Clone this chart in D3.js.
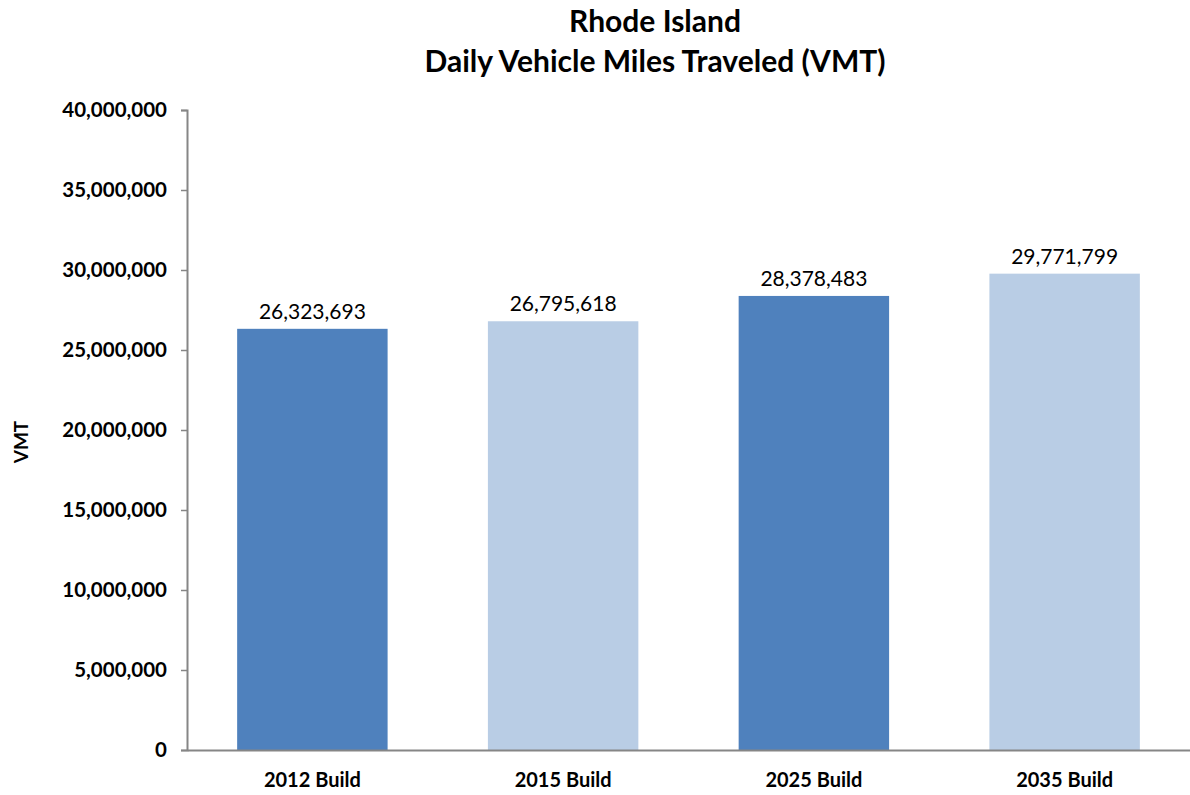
<!DOCTYPE html>
<html>
<head>
<meta charset="utf-8">
<script src="https://cdn.jsdelivr.net/npm/d3@7"></script>
<style>
  body { margin: 0; background: #fff; }
  text { font-family: Lato, "Open Sans", sans-serif; }
</style>
</head>
<body>
<div id="main"></div>
<script>
const categories = ["2012 Build", "2015 Build", "2025 Build", "2035 Build"];
const vmtValues = [26323693, 26795618, 28378483, 29771799];
const barColors = ["#4F81BD", "#B9CDE5", "#4F81BD", "#B9CDE5"];
const yTicks = [0, 5000000, 10000000, 15000000, 20000000, 25000000, 30000000, 35000000, 40000000];
const titleLines = ["Rhode Island", "Daily Vehicle Miles Traveled (VMT)"];

const ctx = {
    w: 1190,
    h: 795,
    left: 187,
    right: 1190,
    top: 110,
    bottom: 750,
};

function createViz(){
    let svg = d3.select("#main").append("svg")
        .attr("width", ctx.w)
        .attr("height", ctx.h);

    const x = d3.scaleBand().domain(categories)
        .range([ctx.left, ctx.right]).paddingInner(0.4).paddingOuter(0.2);
    const y = d3.scaleLinear().domain([0, 40000000]).range([ctx.bottom, ctx.top]);
    const fmt = d3.format(",");

    // titre
    svg.append("g").selectAll("text")
        .data(titleLines)
        .enter().append("text")
        .attr("x", 655)
        .attr("y", (d, i) => 32 + i * 40)
        .attr("text-anchor", "middle")
        .style("font-size", "30px")
        .style("font-weight", "bold")
        .text(d => d);

    // barres
    svg.append("g").selectAll("rect")
        .data(vmtValues)
        .enter().append("rect")
        .attr("x", (d, i) => x(categories[i]))
        .attr("y", d => y(d))
        .attr("width", x.bandwidth())
        .attr("height", d => y(0) - y(d))
        .attr("fill", (d, i) => barColors[i]);

    // etiquettes des valeurs
    svg.append("g").selectAll("text")
        .data(vmtValues)
        .enter().append("text")
        .attr("x", (d, i) => x(categories[i]) + x.bandwidth() / 2)
        .attr("y", d => y(d) - 10)
        .attr("text-anchor", "middle")
        .style("font-size", "21px")
        .style("fill", "#000")
        .text(d => fmt(d));

    // axe y
    let yAxis = svg.append("g")
        .attr("transform", `translate(${ctx.left},0)`)
        .call(d3.axisLeft(y).tickValues(yTicks).tickFormat(fmt).tickSize(6).tickPadding(14));
    yAxis.select(".domain").attr("stroke", "#868686").attr("stroke-width", 2);
    yAxis.selectAll(".tick line").attr("stroke", "#868686").attr("stroke-width", 1.5);
    yAxis.selectAll(".tick text")
        .style("font-family", "Lato, sans-serif")
        .style("font-size", "20.5px")
        .style("font-weight", "bold")
        .attr("fill", "#000");

    // axe x
    let xAxis = svg.append("g")
        .attr("transform", `translate(0,${ctx.bottom})`)
        .call(d3.axisBottom(x).tickSize(0).tickPadding(23));
    xAxis.select(".domain").attr("stroke", "#868686").attr("stroke-width", 2);
    xAxis.selectAll(".tick text")
        .style("font-family", "Lato, sans-serif")
        .style("font-size", "20px")
        .style("font-weight", "bold")
        .attr("fill", "#000");

    // titre axe y
    svg.append("text")
        .attr("transform", "translate(28,442) rotate(-90)")
        .attr("text-anchor", "middle")
        .style("font-size", "19px")
        .style("font-weight", "bold")
        .text("VMT");
}

createViz();
</script>
</body>
</html>
